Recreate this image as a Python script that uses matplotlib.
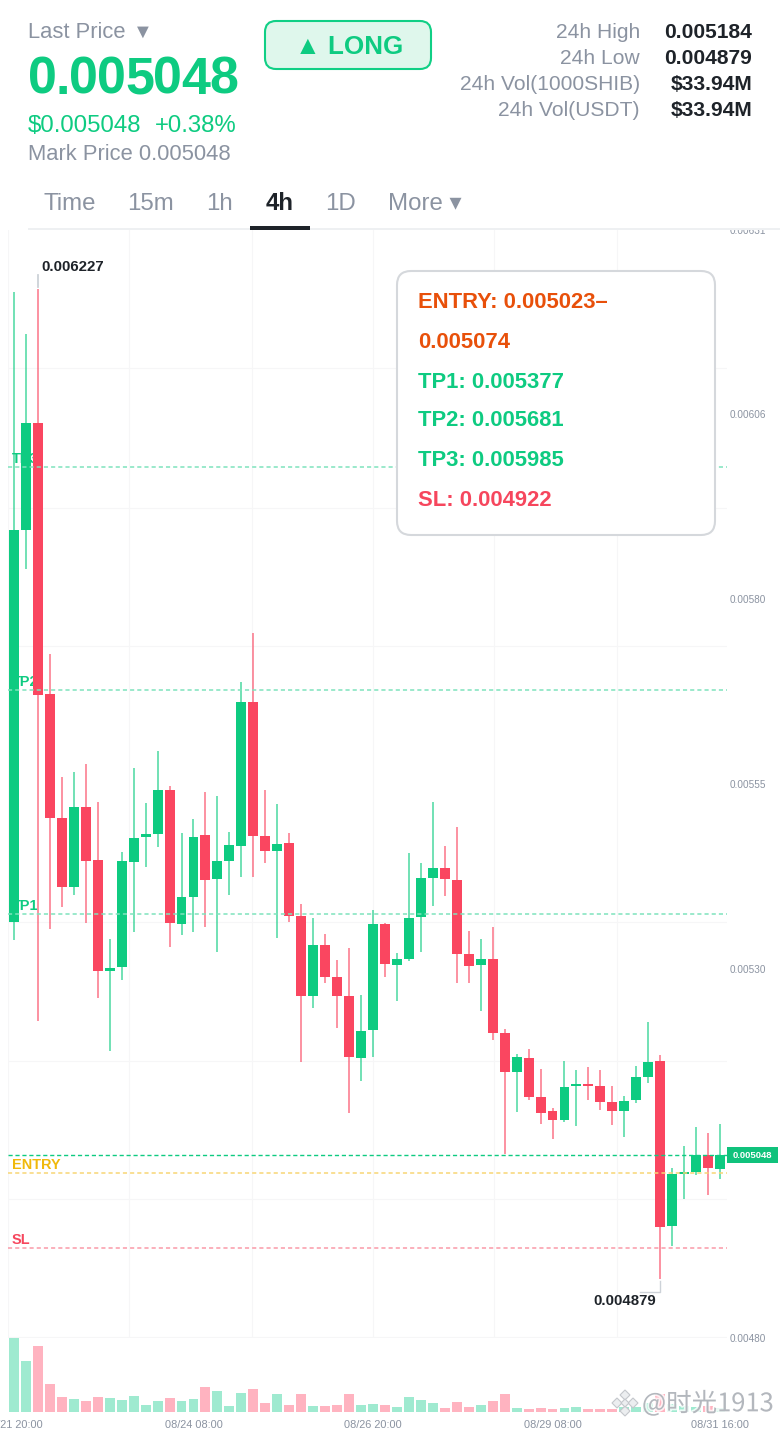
#imports
from matplotlib import pyplot as plt
from matplotlib.patches import FancyBboxPatch, Polygon, Rectangle
import matplotlib.patheffects as pe

#candle data, oldest first
opens = [0.005365, 0.005899, 0.006045, 0.005676, 0.005507, 0.005413, 0.005522, 0.005450, 0.005299, 0.005304,
         0.005447, 0.005481, 0.005485, 0.005545, 0.005363, 0.005399, 0.005484, 0.005424, 0.005448, 0.005469,
         0.005665, 0.005482, 0.005462, 0.005473, 0.005373, 0.005265, 0.005334, 0.005290, 0.005265, 0.005180,
         0.005218, 0.005363, 0.005307, 0.005315, 0.005372, 0.005425, 0.005439, 0.005423, 0.005322, 0.005307,
         0.005315, 0.005214, 0.005161, 0.005180, 0.005127, 0.005108, 0.005096, 0.005142, 0.005145, 0.005142,
         0.005120, 0.005108, 0.005123, 0.005154, 0.005176, 0.004951, 0.005022, 0.005025, 0.005048, 0.005029]
highs = [0.006223, 0.006167, 0.006227, 0.005730, 0.005563, 0.005570, 0.005580, 0.005529, 0.005342, 0.005461,
         0.005575, 0.005527, 0.005598, 0.005551, 0.005487, 0.005506, 0.005542, 0.005537, 0.005488, 0.005693,
         0.005759, 0.005545, 0.005526, 0.005487, 0.005390, 0.005371, 0.005349, 0.005314, 0.005330, 0.005266,
         0.005382, 0.005364, 0.005323, 0.005459, 0.005446, 0.005529, 0.005469, 0.005495, 0.005353, 0.005342,
         0.005359, 0.005220, 0.005186, 0.005192, 0.005165, 0.005112, 0.005176, 0.005164, 0.005168, 0.005164,
         0.005142, 0.005128, 0.005169, 0.005229, 0.005184, 0.005030, 0.005060, 0.005086, 0.005078, 0.005090]
lows = [0.005341, 0.005846, 0.005230, 0.005356, 0.005386, 0.005402, 0.005364, 0.005262, 0.005190, 0.005286,
        0.005352, 0.005440, 0.005467, 0.005331, 0.005348, 0.005352, 0.005359, 0.005324, 0.005402, 0.005427,
        0.005427, 0.005446, 0.005344, 0.005365, 0.005175, 0.005248, 0.005282, 0.005221, 0.005105, 0.005149,
        0.005181, 0.005290, 0.005258, 0.005312, 0.005324, 0.005387, 0.005401, 0.005282, 0.005282, 0.005244,
        0.005205, 0.005049, 0.005107, 0.005123, 0.005090, 0.005070, 0.005093, 0.005088, 0.005123, 0.005109,
        0.005089, 0.005073, 0.005119, 0.005146, 0.004879, 0.004924, 0.004988, 0.005021, 0.004994, 0.005015]
closes = [0.005900, 0.006045, 0.005674, 0.005507, 0.005413, 0.005522, 0.005448, 0.005299, 0.005303, 0.005448,
          0.005480, 0.005485, 0.005545, 0.005364, 0.005399, 0.005481, 0.005423, 0.005448, 0.005470, 0.005665,
          0.005482, 0.005462, 0.005472, 0.005373, 0.005265, 0.005334, 0.005290, 0.005265, 0.005181, 0.005217,
          0.005363, 0.005308, 0.005315, 0.005371, 0.005425, 0.005439, 0.005424, 0.005322, 0.005305, 0.005315,
          0.005214, 0.005161, 0.005181, 0.005127, 0.005105, 0.005096, 0.005141, 0.005145, 0.005142, 0.005120,
          0.005108, 0.005122, 0.005154, 0.005175, 0.004950, 0.005022, 0.005025, 0.005048, 0.005030, 0.005048]
volumes = [73.7, 50.3, 65.7, 27.3, 14.7, 12.7, 10.7, 14.7, 13.3, 11.7,
           15.3, 6.7, 10.3, 13.7, 10.3, 12.3, 24.3, 20.7, 5.3, 18.7,
           22.3, 8.3, 17.7, 6.3, 17.3, 5.7, 5.3, 6.7, 17.7, 6.7,
           7.7, 6.3, 4.7, 14.3, 11.7, 9.0, 3.7, 9.3, 4.3, 6.7,
           10.7, 18.0, 3.7, 3.0, 4.0, 3.0, 3.3, 4.3, 3.0, 3.0,
           3.0, 4.3, 5.0, 8.3, 17.7, 7.7, 5.7, 4.3, 5.7, 4.0]

#axis labels
priceTicks = [0.006308, 0.006057, 0.005806, 0.005553, 0.005302, 0.004799]
priceLabels = ["0.00631", "0.00606", "0.00580", "0.00555", "0.00530", "0.00480"]
dateTicks = [0, 15, 30, 45, 59]
dateLabels = ["08/21 20:00", "08/24 08:00", "08/26 20:00", "08/29 08:00", "08/31 16:00"]
gridPrices = [0.006308, 0.006120, 0.005930, 0.005742, 0.005553, 0.005365, 0.005176, 0.004988, 0.004800]
gridIndex = [-0.5, 9.65, 19.9, 30.0, 40.1, 50.4]

#signal levels
lastPrice = 0.005048
levelNames = ["TP3", "TP2", "TP1", "ENTRY", "SL"]
levelPrices = [0.005985, 0.005681, 0.005377, 0.005023, 0.004922]
signalLines = ["ENTRY: 0.005023–", "0.005074", "TP1: 0.005377", "TP2: 0.005681", "TP3: 0.005985", "SL: 0.004922"]

#header text
statNames = ["24h High", "24h Low", "24h Vol(1000SHIB)", "24h Vol(USDT)"]
statValues = ["0.005184", "0.004879", "$33.94M", "$33.94M"]
tabNames = ["Time", "15m", "1h", "4h", "1D", "More ▾"]

#colors
green = "#0ecb81"
red = "#fa4660"
gray = "#8b93a1"
dark = "#1e2329"
gridColor = "#f6f6f7"
levelColors = ["#7fe3bd", "#7fe3bd", "#7fe3bd", "#f8d675", "#fa9aa8"]
levelTextColors = [green, green, green, "#f0b90b", "#f6465d"]
signalColors = ["#e8500a", "#e8500a", green, green, green, "#f6465d"]

W, H = 780, 1430
PX = 0.72  #font size, pixels to points

plt.rcParams['font.family'] = ['Liberation Sans', 'DejaVu Sans']


def pxAxes(left, top, right, bottom):
    return fig.add_axes([left / W, 1 - bottom / H, (right - left) / W, (bottom - top) / H])


if __name__ == '__main__':
    fig = plt.figure(figsize=(W / 100, H / 100), dpi=100)
    xs = list(range(len(opens)))
    xLim = (-0.5, 59.58)
    bodyWidth = 0.83

    #price panel
    ax = pxAxes(8, 230, 727, 1338)
    ax.set_xlim(*xLim)
    ax.set_ylim(0.0047988, 0.0063076)
    for s in ax.spines.values():
        s.set_visible(False)
    ax.yaxis.tick_right()
    ax.set_yticks(priceTicks)
    ax.set_yticklabels(priceLabels)
    ax.set_yticks(gridPrices, minor=True)
    ax.set_xticks([])
    ax.set_xticks(gridIndex, minor=True)
    ax.tick_params(axis='y', which='major', length=0, pad=2.2, labelsize=10 * PX, labelcolor=gray)
    ax.tick_params(which='minor', length=0)
    ax.grid(True, which='minor', color=gridColor, lw=0.8)
    ax.set_axisbelow(True)

    for i in xs:
        col = green if closes[i] >= opens[i] else red
        ax.vlines(i, lows[i], highs[i], color=col, lw=1.1, alpha=0.75, zorder=3)
        ax.bar(i, abs(closes[i] - opens[i]), bottom=min(opens[i], closes[i]), width=bodyWidth,
               color=col, zorder=3.5)

    #signal levels, labels sit behind the candles
    for name, price, col, textCol in zip(levelNames, levelPrices, levelColors, levelTextColors):
        ax.axhline(price, color=col, lw=1.1, ls=(0, (2.7, 2)), zorder=4)
        ax.annotate(name, (-0.5, price), xytext=(4, 1), textcoords='offset pixels', color=textCol,
                    fontsize=14.5 * PX, fontweight='bold', va='bottom', zorder=1)
    ax.axhline(lastPrice, color=green, lw=1.0, ls=(0, (3, 2)), zorder=4)

    #high and low markers
    hi = highs.index(max(highs))
    lo = lows.index(min(lows))
    ax.annotate("0.006227", (hi, highs[hi]), xytext=(3, 15), textcoords='offset pixels',
                color=dark, fontsize=15 * PX, fontweight='bold', va='bottom')
    ax.annotate("0.004879", (lo, lows[lo]), xytext=(-4, -15), textcoords='offset pixels',
                color=dark, fontsize=15 * PX, fontweight='bold', va='top', ha='right')

    #volume panel
    axV = pxAxes(8, 1338, 727, 1411.7)
    axV.set_xlim(*xLim)
    axV.set_ylim(0, 73.7)
    for s in axV.spines.values():
        s.set_visible(False)
    axV.set_yticks([])
    volColors = ["#9fead0" if closes[i] >= opens[i] else "#ffb3c0" for i in xs]
    axV.bar(xs, volumes, width=bodyWidth, color=volColors)
    axV.set_xticks(dateTicks)
    axV.set_xticklabels(dateLabels)
    axV.tick_params(axis='x', length=0, pad=6.2, labelsize=11 * PX, labelcolor=gray)

    #header and overlays, drawn in picture pixels
    ov = fig.add_axes([0, 0, 1, 1], zorder=10)
    ov.set_xlim(0, W)
    ov.set_ylim(H, 0)
    ov.axis('off')
    ov.add_patch(Rectangle((0, 0), W, 228, color='white', lw=0))

    ov.text(28, 32, "Last Price", color=gray, fontsize=22 * PX, va='center')
    ov.text(133, 32, "▼", color=gray, fontsize=20 * PX, va='center')
    #big price with tightened letter spacing
    cx = 28
    for ch in "0.005048":
        ov.text(cx, 80, ch, color=green, fontsize=52 * PX, fontweight='bold', va='center')
        cx += (0.278 if ch == "." else 0.556) * 52 - 1
    ov.text(28, 126, "$0.005048", color=green, fontsize=24 * PX, va='center')
    ov.text(155, 126, "+0.38%", color=green, fontsize=24 * PX, va='center')
    ov.text(28, 155, "Mark Price 0.005048", color=gray, fontsize=22 * PX, va='center')

    ov.add_patch(FancyBboxPatch((265, 21), 166, 48, boxstyle="round,pad=0,rounding_size=11",
                                fc="#dff7ec", ec="#10cf85", lw=1.5))
    ov.text(349, 47, "▲ LONG", color=green, fontsize=26 * PX, fontweight='bold', ha='center', va='center')

    for k, (name, val) in enumerate(zip(statNames, statValues)):
        y = 33 + k * 26
        ov.text(640, y, name, color=gray, fontsize=21 * PX, ha='right', va='center')
        ov.text(752, y, val, color=dark, fontsize=21 * PX, fontweight='bold', ha='right', va='center')

    tabX = [44, 127.5, 206.5, 266, 325.5, 388]
    for t, x in zip(tabNames, tabX):
        active = t == "4h"
        ov.text(x, 204, t, color=dark if active else gray, fontsize=24 * PX,
                fontweight='bold' if active else 'normal', va='center')
    ov.add_patch(Rectangle((28, 228), 752, 2, color="#eef0f2", lw=0))
    ov.add_patch(Rectangle((250, 226), 60, 4, color=dark, lw=0))

    #leader lines of the high and low labels
    ov.plot([38, 38], [275, 287], color="#cdd2d8", lw=1.3)
    ov.plot([640, 660, 660], [1292, 1292, 1281], color="#cdd2d8", lw=1.0)

    #signal box
    ov.add_patch(FancyBboxPatch((397, 271), 318, 264, boxstyle="round,pad=0,rounding_size=14",
                                fc="white", ec="#d5d8dc", lw=1.5))
    for line, y, col in zip(signalLines, [303, 343, 383, 421, 461, 500], signalColors):
        ov.text(418, y, line, color=col, fontsize=22 * PX, fontweight='bold', va='center')

    #last price tag
    ov.add_patch(Rectangle((727, 1147), 51, 16, color="#10c27c", lw=0))
    ov.text(752.5, 1155.5, "0.005048", color="white", fontsize=9.5 * PX, fontweight='bold', ha='center', va='center')

    #watermark
    halo = [pe.withStroke(linewidth=2.5, foreground='white', alpha=0.8)]
    for dx, dy, r in [(-8, 0, 5), (8, 0, 5), (0, -8, 5), (0, 8, 5), (0, 0, 4)]:
        ov.add_patch(Polygon([(625 + dx - r, 1403 + dy), (625 + dx, 1403 + dy - r),
                              (625 + dx + r, 1403 + dy), (625 + dx, 1403 + dy + r)],
                             fc="#eceef0", ec="#c4c7cc", lw=0.8))
    ov.text(642, 1404, "@时光1913", color="#b3b7bd", fontsize=25.5 * PX, va='center',
            family=['Noto Sans CJK SC', 'DejaVu Sans'], path_effects=halo)

    fig.savefig("out.png", dpi=100)
